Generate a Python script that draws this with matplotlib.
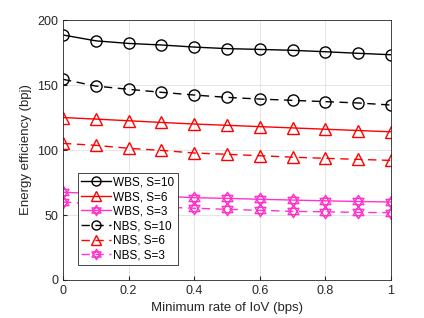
import matplotlib
matplotlib.use("Agg")
import matplotlib.pyplot as plt
from matplotlib.path import Path
from matplotlib.lines import Line2D
import numpy as np

plt.rcParams['font.family'] = ['Liberation Sans', 'DejaVu Sans']

rate = [0, 0.1, 0.2, 0.3, 0.4, 0.5, 0.6, 0.7, 0.8, 0.9, 1.0]

wbs_10 = [188.5, 184.0, 182.0, 180.8, 179.2, 178.0, 177.4, 176.7, 175.6, 174.4, 173.3]
wbs_6 = [125.0, 123.8, 122.5, 121.2, 120.0, 119.0, 118.0, 117.0, 116.0, 115.0, 114.0]
wbs_3 = [67.5, 66.5, 65.5, 64.5, 63.3, 62.8, 62.1, 61.5, 60.9, 60.4, 60.0]
nbs_10 = [154.4, 149.2, 146.7, 144.4, 142.3, 140.5, 139.2, 138.2, 137.2, 136.2, 134.6]
nbs_6 = [105.1, 103.6, 101.3, 99.7, 97.7, 96.7, 95.6, 94.5, 93.6, 92.8, 92.0]
nbs_3 = [60.0, 58.5, 57.2, 56.1, 55.2, 54.4, 53.6, 52.8, 52.5, 52.0, 51.8]

labels = ["WBS, S=10", "WBS, S=6", "WBS, S=3", "NBS, S=10", "NBS, S=6", "NBS, S=3"]

pink = (1.0, 0.2, 0.8)
dark = (0.15, 0.15, 0.15)

# hexagram: two overlapping triangles
ang_up = np.deg2rad([90, 210, 330])
ang_dn = np.deg2rad([270, 30, 150])
verts = []
codes = []
for ang in (ang_up, ang_dn):
    pts = list(zip(np.cos(ang), np.sin(ang)))
    verts += pts + [pts[0]]
    codes += [Path.MOVETO, Path.LINETO, Path.LINETO, Path.CLOSEPOLY]
hexagram = Path(verts, codes)

styles = [
    (wbs_10, 'k', 'o', '-', 8),
    (wbs_6, 'r', '^', '-', 8),
    (wbs_3, pink, hexagram, '-', 9),
    (nbs_10, 'k', 'o', '--', 8),
    (nbs_6, 'r', '^', '--', 8),
    (nbs_3, pink, hexagram, '--', 9),
]

fig = plt.figure(figsize=(4.24, 3.18), dpi=100)
ax = fig.add_axes([0.1486, 0.1195, 0.7736, 0.8175])

handles = []
for (vals, c, m, ls, ms), lab in zip(styles, labels):
    dash = (6, 4) if ls == '--' else (None, None)
    ax.plot(rate, vals, color=c, marker=m, linestyle=ls, linewidth=1.0,
            markersize=ms, markerfacecolor='none', markeredgewidth=1.0,
            dashes=dash)
    handles.append(Line2D([], [], color=c, marker=m, linestyle=ls, linewidth=1.0,
                          markersize=ms - 1.5, markerfacecolor='none',
                          markeredgewidth=1.0, dashes=dash, label=lab))

ax.set_xlim(0, 1)
ax.set_ylim(0, 200)
ax.set_xticks([0, 0.2, 0.4, 0.6, 0.8, 1])
ax.set_xticklabels(['0', '0.2', '0.4', '0.6', '0.8', '1'])
ax.set_yticks([0, 50, 100, 150, 200])
ax.grid(True, color=(0.88, 0.88, 0.88), linewidth=0.6)
ax.set_axisbelow(True)
ax.tick_params(direction='in', labelsize=9, colors=dark, length=3)
for s in ax.spines.values():
    s.set_color(dark)
    s.set_linewidth(0.6)
ax.set_xlabel("Minimum rate of IoV (bps)", fontsize=9.5, color=dark)
ax.set_ylabel("Energy efficiency (bpj)", fontsize=9.5, color=dark)

leg = ax.legend(handles=handles, loc='upper left', bbox_to_anchor=(0.045, 0.412),
                fontsize=8.5, frameon=True, fancybox=False, edgecolor=dark,
                framealpha=1, handlelength=2.5, handletextpad=0.2,
                labelspacing=0.22, borderpad=0.3, borderaxespad=0)
leg.get_frame().set_linewidth(0.6)
leg.set_zorder(5)

fig.savefig("out.png", dpi=100)
